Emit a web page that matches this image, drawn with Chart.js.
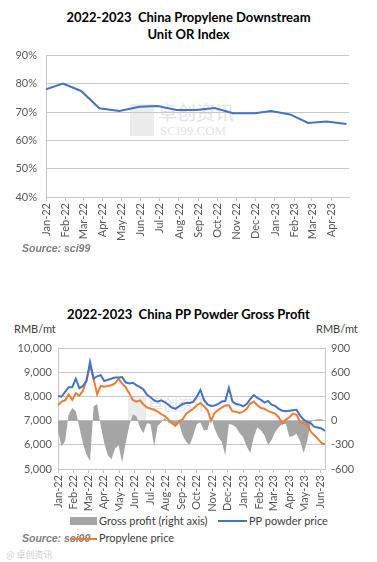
<!DOCTYPE html>
<html>
<head>
<meta charset="utf-8">
<script src="https://cdn.jsdelivr.net/npm/chart.js@4.4.0/dist/chart.umd.min.js"></script>
<style>
  body { margin: 0; width: 377px; height: 562px; background: #fff; position: relative; overflow: hidden; font-family: Lato, "Liberation Sans", sans-serif; }
  .abs { position: absolute; white-space: nowrap; }
  .title { left: 0; width: 377px; text-align: center; font-weight: bold; font-size: 13px; line-height: 17px; color: #000; }
  .unit { font-size: 11px; line-height: 13px; color: #404040; }
  .source { font-family: "Liberation Sans", Arial, sans-serif; font-weight: bold; font-style: italic; font-size: 10.5px; line-height: 12px; color: #7f7f7f; }
  .legend { font-size: 11px; line-height: 13px; color: #404040; }
  .wm { color: #e4e4e4; font-family: "Noto Sans CJK SC", sans-serif; }
  canvas { position: absolute; left: 0; }
</style>
</head>
<body>
<div class="abs title" style="top:9px">2022-2023&nbsp;&nbsp;China Propylene Downstream<br>Unit OR Index</div>

<div class="abs wm" style="left:130px;top:104px;width:24px;height:32px;background:#ececec"></div>
<div class="abs wm" style="left:158px;top:101px;font-size:19px;line-height:22px">卓创资讯</div>
<div class="abs wm" style="left:160px;top:123px;font-size:13px;line-height:15px;font-family:'Liberation Serif',serif">SCI99.COM</div>

<canvas id="orChart" width="377" height="207" style="top:40px"></canvas>
<div class="abs source" style="left:22px;top:242px">Source: sci99</div>

<div class="abs title" style="top:306px">2022-2023&nbsp;&nbsp;China PP Powder Gross Profit</div>
<div class="abs unit" style="left:14px;top:322px">RMB/mt</div>
<div class="abs unit" style="left:316px;top:322px">RMB/mt</div>

<div class="abs wm" style="left:128px;top:397px;width:18px;height:24px;background:#ececec"></div>
<div class="abs wm" style="left:148px;top:395px;font-size:15px;line-height:18px">卓创资讯</div>

<canvas id="gpChart" width="377" height="175" style="top:336px"></canvas>

<div class="abs" style="left:70px;top:517px;width:27px;height:8px;background:#a5a5a5"></div>
<div class="abs legend" style="left:99px;top:514px">Gross profit (right axis)</div>
<div class="abs" style="left:218px;top:520px;width:29px;height:2px;background:#4472c4"></div>
<div class="abs legend" style="left:249px;top:514px">PP powder price</div>
<div class="abs source" style="left:22px;top:532px">Source: sci99</div>
<div class="abs" style="left:70px;top:538px;width:27px;height:2px;background:#ed7d31"></div>
<div class="abs legend" style="left:99px;top:531px">Propylene price</div>
<div class="abs" style="left:6px;top:548px;font-size:9px;color:#d0d0d0;font-family:'Noto Sans CJK SC',sans-serif">@ 卓创资讯</div>

<script>
// top chart: downstream operating rate, monthly
const orMonthLabels = ["Jan-22", "Feb-22", "Mar-22", "Apr-22", "May-22", "Jun-22", "Jul-22", "Aug-22",
  "Sep-22", "Oct-22", "Nov-22", "Dec-22", "Jan-23", "Feb-23", "Mar-23", "Apr-23"];
const orMonthDays = [0, 31, 59, 90, 120, 151, 181, 212, 243, 273, 304, 334, 365, 396, 424, 455];
const orPointDays = [0, 27, 56, 85, 117, 149, 178, 208, 239, 269, 298, 333, 359, 389, 418, 447, 479];
const orValues = [78.1, 80.1, 77.5, 71.4, 70.4, 71.9, 72.2, 70.8, 70.8, 71.5, 69.6, 69.6, 70.4, 69.2, 66.2, 66.7, 65.8];

// bottom chart: weekly prices and gross profit
const gpMonthLabels = ["Jan-22", "Feb-22", "Mar-22", "Apr-22", "May-22", "Jun-22", "Jul-22", "Aug-22", "Sep-22",
  "Oct-22", "Nov-22", "Dec-22", "Jan-23", "Feb-23", "Mar-23", "Apr-23", "May-23", "Jun-23"];
const gpMonthDays = [0, 31, 59, 90, 120, 151, 181, 212, 243, 273, 304, 334, 365, 396, 424, 455, 485, 516];
const gpWeekDays = [0, 7, 14, 21, 28, 35, 42, 49, 56, 63, 70, 77, 84, 91, 98, 105, 112, 119, 126, 133,
  140, 147, 154, 161, 168, 175, 182, 189, 196, 203, 210, 217, 224, 231, 238, 245, 252, 259, 266, 273,
  280, 287, 294, 301, 308, 315, 322, 329, 336, 343, 350, 357, 364, 371, 378, 385, 392, 399, 406, 413,
  420, 427, 434, 441, 448, 455, 462, 469, 476, 483, 490, 497, 504, 511, 518, 525];
const ppPrice = [8030, 8000, 8200, 8400, 8400, 8750, 8350, 8450, 8650, 9450,
  8750, 8850, 8900, 8650, 8700, 8750, 8800, 8800, 8820, 8600,
  8550, 8580, 8480, 8400, 8300, 8080, 7980, 7850, 7800, 7850,
  7780, 7670, 7550, 7500, 7600, 7700, 7740, 7740, 7800, 8000,
  8280, 7870, 7680, 7620, 7640, 7700, 7800, 7820, 8370, 7800,
  7700, 7670, 7600, 7700, 7900, 8070, 7950, 7870, 7760, 7830,
  7670, 7620, 7500, 7420, 7400, 7420, 7440, 7460, 7220, 7050,
  6960, 6900, 6750, 6720, 6680, 6580];
const propylenePrice = [7650, 7800, 7850, 8100, 7870, 8150, 8050, 8250, 8700, 9300,
  8750, 8100, 8450, 8420, 8450, 8480, 8550, 8750, 8550, 8400,
  8150, 7870, 7800, 7850, 7680, 7560, 7500, 7460, 7380, 7280,
  7200, 7060, 6900, 6790, 6990, 7060, 7300, 7400, 7500, 7650,
  7740, 7600, 7450, 7000, 7330, 7450, 7550, 7640, 7650, 7400,
  7380, 7330, 7380, 7500, 7720, 7800, 7650, 7530, 7500, 7400,
  7350, 7300, 7150, 6890, 7050, 7150, 7300, 7250, 6950, 6900,
  6850, 6550, 6400, 6250, 6080, 6020];
const grossProfit = [-120, -320, -250, 80, 160, 120, -80, -280, -420, -500,
  180, 210, -60, -280, -430, -480, -350, -300, -520, -280,
  -60, 80, 60, -80, -150, -30, -40, -320, -60, -20,
  40, -20, -40, -60, -30, -180, -260, -300, -180, -40,
  -20, -120, -110, 50, -100, -200, -260, -430, -40, -50,
  -80, -150, -200, -320, -400, -200, -80, -120, -180, -300,
  -240, -140, -80, -40, -40, -200, -190, -160, -250, -400,
  -250, -20, 10, 20, 20, 0];

const tickColor = "#595959";
const gridColor = "#c8c8c8";
const tickFont = { family: "Lato", size: 11 };

function pairs(days, values) {
  return values.map((v, i) => ({ x: days[i], y: v }));
}

function monthAxis(days, labels, max, height) {
  return {
    type: "linear",
    min: 0,
    max: max,
    afterBuildTicks: (scale) => {
      scale.ticks = days.map((d) => ({ value: d }));
    },
    afterFit: (scale) => {
      scale.height = height;
    },
    ticks: {
      autoSkip: false,
      minRotation: 90,
      maxRotation: 90,
      padding: 2,
      color: tickColor,
      font: tickFont,
      callback: (value, index) => labels[index],
    },
    grid: { drawOnChartArea: false, drawTicks: true, tickLength: 4, color: gridColor },
    border: { color: gridColor },
  };
}

new Chart(document.getElementById("orChart"), {
  type: "line",
  data: {
    datasets: [
      {
        data: pairs(orPointDays, orValues),
        borderColor: "#4472c4",
        borderWidth: 2,
        pointRadius: 0,
        tension: 0,
      },
    ],
  },
  options: {
    responsive: false,
    animation: false,
    layout: { padding: { top: 9, right: 28, left: 0, bottom: 0 } },
    plugins: { legend: { display: false }, tooltip: { enabled: false } },
    scales: {
      x: monthAxis(orMonthDays, orMonthLabels, 483, 50),
      y: {
        min: 40,
        max: 90,
        afterFit: (scale) => {
          scale.width = 46;
        },
        ticks: { stepSize: 10, padding: 9, color: tickColor, font: tickFont, callback: (v) => v + "%" },
        grid: { drawTicks: false, color: gridColor },
        border: { color: gridColor },
      },
    },
  },
});

new Chart(document.getElementById("gpChart"), {
  type: "line",
  data: {
    datasets: [
      {
        label: "PP powder price",
        data: pairs(gpWeekDays, ppPrice),
        yAxisID: "y",
        borderColor: "#4472c4",
        borderWidth: 2,
        pointRadius: 0,
        tension: 0,
        order: 1,
      },
      {
        label: "Propylene price",
        data: pairs(gpWeekDays, propylenePrice),
        yAxisID: "y",
        borderColor: "#ed7d31",
        borderWidth: 2,
        pointRadius: 0,
        tension: 0,
        order: 2,
      },
      {
        label: "Gross profit (right axis)",
        data: pairs(gpWeekDays, grossProfit),
        yAxisID: "y1",
        borderWidth: 0,
        borderColor: "#a5a5a5",
        backgroundColor: "#a5a5a5",
        fill: "origin",
        pointRadius: 0,
        tension: 0,
        order: 3,
      },
    ],
  },
  options: {
    responsive: false,
    animation: false,
    layout: { padding: { top: 10, right: 0, left: 0, bottom: 0 } },
    plugins: { legend: { display: false }, tooltip: { enabled: false } },
    scales: {
      x: monthAxis(gpMonthDays, gpMonthLabels, 525, 42),
      y: {
        position: "left",
        min: 5000,
        max: 10000,
        afterFit: (scale) => {
          scale.width = 58;
        },
        ticks: { stepSize: 1000, padding: 6, color: tickColor, font: tickFont, callback: (v) => v.toLocaleString("en-US") },
        grid: { drawTicks: false, color: gridColor },
        border: { color: gridColor },
      },
      y1: {
        position: "right",
        min: -600,
        max: 900,
        afterFit: (scale) => {
          scale.width = 52;
        },
        ticks: { stepSize: 300, padding: 6, color: tickColor, font: tickFont },
        grid: { drawOnChartArea: false, drawTicks: false },
        border: { color: gridColor },
      },
    },
  },
});
</script>
</body>
</html>
